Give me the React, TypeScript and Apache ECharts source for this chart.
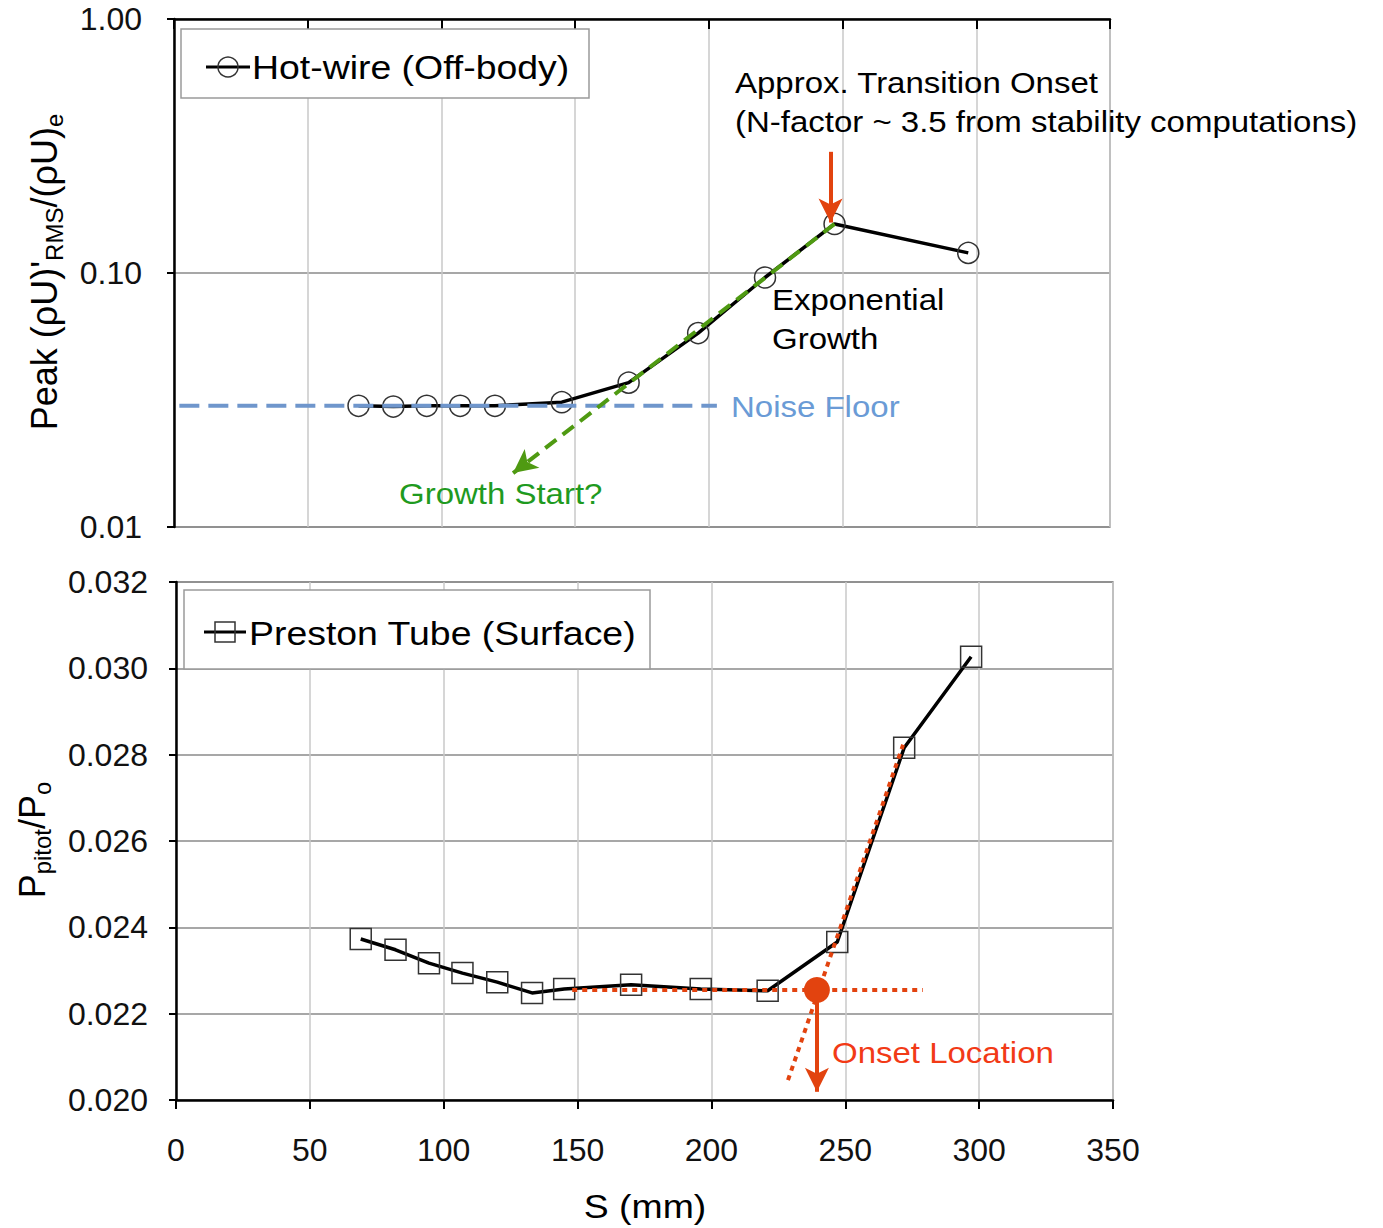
import React, { useEffect, useRef } from 'react';
import * as echarts from 'echarts';

// ---------- data ----------
const xTicks = [0, 50, 100, 150, 200, 250, 300, 350];
const topYTicks = [0.01, 0.1, 1.0];
const bottomYTicks = [0.02, 0.022, 0.024, 0.026, 0.028, 0.03, 0.032];

const sHotWire = [69, 82, 94.5, 107, 120, 145, 170, 196, 221, 247, 297];
const rhoUHotWire = [0.030, 0.0298, 0.030, 0.030, 0.030, 0.031, 0.037, 0.058, 0.096, 0.156, 0.120];

const sPreston = [69, 82, 94.5, 107, 120, 133, 145, 170, 196, 221, 247, 272, 297];
const pPreston = [0.02373, 0.02348, 0.02317, 0.02294, 0.02273, 0.02248, 0.02257, 0.02267, 0.02257, 0.02253, 0.02366, 0.02816, 0.03027];

// annotation geometry (data coordinates)
const noiseFloorS = [2, 203];
const noiseFloorY = [0.030, 0.030];
const growthArrowS = [247, 126.8];
const growthArrowY = [0.156, 0.0163];
const transitionArrowS = [245.5, 245.5];
const transitionArrowY = [0.30, 0.158];
const onsetFlatS = [148, 279];
const onsetFlatY = [0.02255, 0.02255];
const onsetSlopeS = [228.6, 271.6];
const onsetSlopeY = [0.02046, 0.02823];
const onsetPointS = 239.4;
const onsetPointY = 0.02255;
const onsetArrowS = [239.4, 239.4];
const onsetArrowY = [0.02255, 0.02019];

const FONT = '"Liberation Sans", Arial, Helvetica, sans-serif';
const BLUE = '#6f96cc';
const BLUE_TEXT = '#6a9bd6';
const GREEN = '#4f9a12';
const GREEN_TEXT = '#1f9a1f';
const RED = '#e2430f';
const RED_TEXT = '#f23a16';

const zip = (a: number[], b: number[]) => a.map((v, i) => [v, b[i]]);

export default function App() {
  const ref = useRef<HTMLDivElement>(null);

  useEffect(() => {
    document.body.style.margin = '0';
    const chart = echarts.init(ref.current!, null, { renderer: 'svg' });

    const labelStyle = { color: '#111', fontSize: 32, fontFamily: FONT };
    const axisLineBlack = { show: true, onZero: false, lineStyle: { color: '#000', width: 2.5 } };

    const arrowMarkLine = (s: number[], y: number[], color: string, type: any) => ({
      silent: true,
      animation: false,
      symbol: ['none', 'arrow'],
      symbolSize: [18, 24],
      label: { show: false },
      emphasis: { disabled: true },
      lineStyle: { color, width: 4, type, opacity: 1 },
      data: [[{ coord: [s[0], y[0]] }, { coord: [s[1], y[1]] }]],
    });

    const txt = (text: string, x: number, y: number, fill: string, fontSize = 30, align = 'left') => ({
      type: 'text',
      x,
      y,
      scaleX: 1.1,
      z: 50,
      style: { text, x: 0, y: 0, fill, fontSize, fontFamily: FONT, align, verticalAlign: 'middle' },
    });

    const option: any = {
      animation: false,
      grid: [
        { left: 174, right: 273, top: 19, bottom: 701, show: true, borderColor: '#8a8a8a', borderWidth: 1.5 },
        { left: 176, right: 270, top: 582, bottom: 128, show: true, borderColor: '#8a8a8a', borderWidth: 1.5 },
      ],
      xAxis: [
        {
          gridIndex: 0, type: 'value', position: 'top',
          min: xTicks[0], max: xTicks[xTicks.length - 1], interval: 50,
          axisLine: axisLineBlack,
          axisTick: { show: true, inside: true, length: 10, lineStyle: { color: '#000', width: 2 } },
          axisLabel: { show: false },
          splitLine: { show: true, lineStyle: { color: '#c8c8c8', width: 1.5 } },
        },
        {
          gridIndex: 1, type: 'value', position: 'bottom',
          min: xTicks[0], max: xTicks[xTicks.length - 1], interval: 50,
          axisLine: axisLineBlack,
          axisTick: { show: true, inside: false, length: 9, lineStyle: { color: '#000', width: 2 } },
          axisLabel: { ...labelStyle, margin: 34 },
          splitLine: { show: true, lineStyle: { color: '#c8c8c8', width: 1.5 } },
        },
      ],
      yAxis: [
        {
          gridIndex: 0, type: 'log', logBase: 10,
          min: topYTicks[0], max: topYTicks[topYTicks.length - 1],
          axisLine: axisLineBlack,
          axisTick: { show: true, inside: false, length: 7, lineStyle: { color: '#000', width: 2 } },
          axisLabel: { ...labelStyle, margin: 32, formatter: (v: number) => v.toFixed(2) },
          splitLine: { show: true, lineStyle: { color: '#8a8a8a', width: 1.5 } },
          minorTick: { show: false },
        },
        {
          gridIndex: 1, type: 'value',
          min: bottomYTicks[0], max: bottomYTicks[bottomYTicks.length - 1], interval: 0.002,
          axisLine: axisLineBlack,
          axisTick: { show: true, inside: false, length: 7, lineStyle: { color: '#000', width: 2 } },
          axisLabel: { ...labelStyle, margin: 28, formatter: (v: number) => v.toFixed(3) },
          splitLine: { show: true, lineStyle: { color: '#8a8a8a', width: 1.5 } },
        },
      ],
      series: [
        {
          name: 'Hot-wire (Off-body)', type: 'line', xAxisIndex: 0, yAxisIndex: 0, z: 2,
          data: zip(sHotWire, rhoUHotWire),
          symbol: 'circle', symbolSize: 21, showSymbol: true,
          itemStyle: { color: 'rgba(0,0,0,0)', borderColor: '#333', borderWidth: 1.5 },
          lineStyle: { color: '#000', width: 3.5 },
          emphasis: { disabled: true },
        },
        {
          type: 'line', xAxisIndex: 0, yAxisIndex: 0, z: 3, silent: true,
          data: zip(noiseFloorS, noiseFloorY), showSymbol: false, symbol: 'none',
          lineStyle: { color: BLUE, width: 4, type: [20, 9] },
        },
        {
          type: 'line', xAxisIndex: 0, yAxisIndex: 0, z: 4, silent: true, data: [],
          markLine: arrowMarkLine(growthArrowS, growthArrowY, GREEN, [14, 8]),
        },
        {
          type: 'line', xAxisIndex: 0, yAxisIndex: 0, z: 4, silent: true, data: [],
          markLine: arrowMarkLine(transitionArrowS, transitionArrowY, RED, 'solid'),
        },
        {
          name: 'Preston Tube (Surface)', type: 'line', xAxisIndex: 1, yAxisIndex: 1, z: 2,
          data: zip(sPreston, pPreston),
          symbol: 'rect', symbolSize: 21, showSymbol: true,
          itemStyle: { color: 'rgba(0,0,0,0)', borderColor: '#333', borderWidth: 1.5 },
          lineStyle: { color: '#000', width: 3.5 },
          emphasis: { disabled: true },
        },
        {
          type: 'line', xAxisIndex: 1, yAxisIndex: 1, z: 3, silent: true,
          data: zip(onsetFlatS, onsetFlatY), showSymbol: false, symbol: 'none',
          lineStyle: { color: RED, width: 4, type: [5, 5] },
        },
        {
          type: 'line', xAxisIndex: 1, yAxisIndex: 1, z: 3, silent: true,
          data: zip(onsetSlopeS, onsetSlopeY), showSymbol: false, symbol: 'none',
          lineStyle: { color: RED, width: 4, type: [5, 5] },
        },
        {
          type: 'line', xAxisIndex: 1, yAxisIndex: 1, z: 4, silent: true, data: [],
          markLine: arrowMarkLine(onsetArrowS, onsetArrowY, RED, 'solid'),
        },
        {
          type: 'scatter', xAxisIndex: 1, yAxisIndex: 1, z: 5, silent: true,
          data: [[onsetPointS, onsetPointY]], symbol: 'circle', symbolSize: 26,
          itemStyle: { color: RED, opacity: 1 },
        },
      ],
      graphic: {
        elements: [
          // top legend
          { type: 'rect', z: 40, shape: { x: 181, y: 29, width: 408, height: 69 }, style: { fill: '#fff', stroke: '#9a9a9a', lineWidth: 1.5 } },
          { type: 'line', z: 41, shape: { x1: 206, y1: 67, x2: 250, y2: 67 }, style: { stroke: '#000', lineWidth: 3 } },
          { type: 'circle', z: 42, shape: { cx: 228, cy: 67, r: 10 }, style: { fill: 'none', stroke: '#333', lineWidth: 1.5 } },
          { ...txt('Hot-wire (Off-body)', 252, 68, '#000', 34) },
          // bottom legend
          { type: 'rect', z: 40, shape: { x: 184, y: 590, width: 466, height: 79 }, style: { fill: '#fff', stroke: '#9a9a9a', lineWidth: 1.5 } },
          { type: 'line', z: 41, shape: { x1: 204, y1: 632, x2: 246, y2: 632 }, style: { stroke: '#000', lineWidth: 3 } },
          { type: 'rect', z: 42, shape: { x: 215, y: 622, width: 20, height: 20 }, style: { fill: 'none', stroke: '#333', lineWidth: 1.5 } },
          { ...txt('Preston Tube (Surface)', 249, 634, '#000', 34) },
          // annotations
          txt('Approx. Transition Onset', 735, 83, '#000'),
          txt('(N-factor ~ 3.5 from stability computations)', 735, 122, '#000'),
          txt('Exponential', 772, 300, '#000'),
          txt('Growth', 772, 339, '#000'),
          txt('Noise Floor', 731, 407, BLUE_TEXT),
          txt('Growth Start?', 399, 494, GREEN_TEXT),
          txt('Onset Location', 832, 1053, RED_TEXT),
          // axis titles
          { ...txt('S (mm)', 645, 1207, '#000', 34, 'center') },
          {
            type: 'text', x: 44, y: 272, rotation: Math.PI / 2, z: 50,
            style: {
              text: "{a|Peak (ρU)'}{s|RMS}{a|/(ρU)}{s|e}",
              x: 0, y: 0, align: 'center', verticalAlign: 'middle',
              rich: {
                a: { fontSize: 36, fontFamily: FONT, fill: '#000', color: '#000', lineHeight: 44 },
                s: { fontSize: 24, fontFamily: FONT, fill: '#000', color: '#000', lineHeight: 24, verticalAlign: 'bottom' },
              },
            },
          },
          {
            type: 'text', x: 32, y: 840, rotation: Math.PI / 2, z: 50,
            style: {
              text: '{a|P}{s|pitot}{a|/P}{s|o}',
              x: 0, y: 0, align: 'center', verticalAlign: 'middle',
              rich: {
                a: { fontSize: 36, fontFamily: FONT, fill: '#000', color: '#000', lineHeight: 44 },
                s: { fontSize: 24, fontFamily: FONT, fill: '#000', color: '#000', lineHeight: 24, verticalAlign: 'bottom' },
              },
            },
          },
        ],
      },
    };

    chart.setOption(option);
    return () => chart.dispose();
  }, []);

  return <div ref={ref} style={{ width: 1383, height: 1228 }} />;
}
